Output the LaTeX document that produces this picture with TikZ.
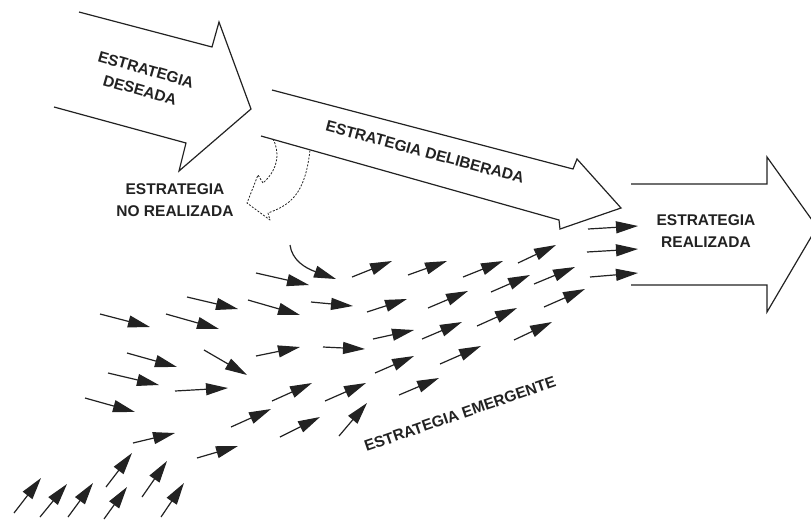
\documentclass[tikz,border=0pt]{standalone}
\usepackage{fontspec}
\setmainfont{Liberation Sans}
\usetikzlibrary{arrows.meta}
\definecolor{ink}{HTML}{222222}
\begin{document}
\begin{tikzpicture}[x=1pt,y=-1pt,
  bigarrow/.style={draw=ink, line width=1.2pt, line join=miter},
  smallarrow/.style={draw=ink, line width=1.2pt, -{Triangle[length=22pt,width=12pt]}},
  lbl/.style={font=\fontsize{15.5}{21.5}\selectfont\bfseries, text=ink, align=center, inner sep=0pt}]
\useasboundingbox (0,0) rectangle (811,520);

% big arrows
\draw[bigarrow] (79,12) -- (212,47) -- (219,22) -- (251,109) -- (179,171) -- (186,143) -- (54,107);
\draw[bigarrow] (272,90) -- (573,169) -- (577,159) -- (621,208) -- (560,229) -- (559,220) -- (261,136);
\draw[bigarrow] (631,184) -- (767,184) -- (767,157) -- (817,227) -- (767,312) -- (767,285) -- (631,285);

% unrealised strategy (dotted outline arrow)
\draw[ink, line width=0.8pt, dash pattern=on 2pt off 1.5pt, line join=round]
  (273,139) .. controls (279,150) and (280,168) .. (263,183) -- (258,175) -- (247,203)
  -- (270,220) -- (268,213) .. controls (290,205) and (305,195) .. (310,150);

% labels
\node[lbl, rotate=-16] (deseada) at (143,80) {ESTRATEGIA\\DESEADA};
\node[lbl, rotate=-15] (deliberada) at (425,152) {ESTRATEGIA DELIBERADA};
\node[lbl] (realizada) at (706,231) {ESTRATEGIA\\REALIZADA};
\node[lbl] (norealizada) at (175,200) {ESTRATEGIA\\NO REALIZADA};
\node[lbl, rotate=19] (emergente) at (460,414) {ESTRATEGIA EMERGENTE};

% curved emergent arrow
\draw[smallarrow] (290,245) .. controls (292,260) and (305,268) .. (336,279);

% emergent arrows
\foreach \a/\b/\c/\d in {
  352/277/392/261, 256/273/309/285, 187/297/238/309, 248/300/300/315,
  311/302/353/306, 100/314/150/327, 166/314/219/329, 367/312/407/299,
  127/353/177/367, 204/350/247/375, 256/356/300/347, 323/347/365/349,
  373/339/414/330, 108/373/159/385, 175/391/228/388, 85/398/135/412,
  272/401/312/383, 325/401/366/383, 375/373/414/356, 231/427/271/409,
  280/437/320/417, 339/436/367/403, 133/443/175/433, 197/458/238/446,
  106/487/132/453, 142/497/167/461, 14/513/41/478, 40/517/67/484,
  68/517/93/483, 104/519/127/487, 161/517/184/483, 408/275/447/261,
  463/277/503/261, 518/263/556/245, 588/229/638/226, 587/252/638/249,
  590/277/638/273, 428/308/468/291, 491/292/530/275, 534/284/575/267,
  477/326/517/308, 544/307/585/289, 440/364/481/346, 514/340/552/322,
  399/395/439/378, 422/339/462/322}
  \draw[smallarrow] (\a,\b) -- (\c,\d);
\end{tikzpicture}
\end{document}
